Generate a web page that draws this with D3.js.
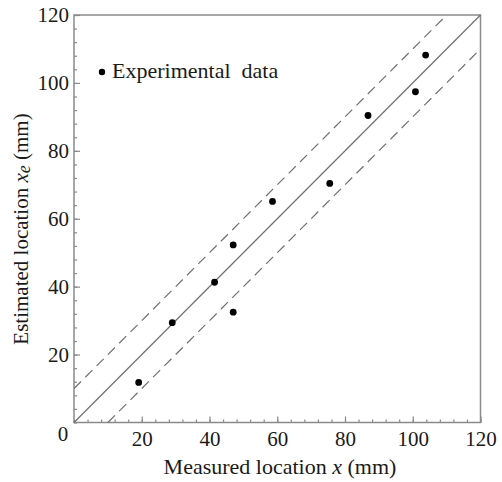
<!DOCTYPE html>
<html>
<head>
<meta charset="utf-8">
<script src="https://cdn.jsdelivr.net/npm/d3@7"></script>
<style>
  body { margin: 0; background: #fff; }
  svg text { font-family: "Liberation Serif", "Times New Roman", serif; fill: #1a1a1a; }
</style>
</head>
<body>
<div id="container"></div>
<script>
// measured vs estimated location (mm)
var measured  = [19.1, 29.0, 41.5, 47.0, 47.0, 58.6, 75.5, 86.8, 100.8, 103.8];
var estimated = [11.8, 29.4, 41.3, 32.5, 52.3, 65.1, 70.4, 90.4, 97.4, 108.2];
var majorTicks = [20, 40, 60, 80, 100, 120];
var minorTicks = d3.range(0, 121, 4);
var bandOffsets = [-10, 0, 10];   // error band around ideal line
var domainMax = 120;

var width = 502, height = 482;
var margin = {left: 74, top: 15, right: 21.5, bottom: 59.5};

var svg = d3.select("#container")
    .append("svg")
    .attr("width", width)
    .attr("height", height);

var x = d3.scaleLinear().domain([0, domainMax]).range([margin.left, width - margin.right]);
var y = d3.scaleLinear().domain([0, domainMax]).range([height - margin.bottom, margin.top]);

var axisColor = "#8a8a8a";

// frame
svg.append("rect")
    .attr("x", x(0))
    .attr("y", y(domainMax))
    .attr("width", x(domainMax) - x(0))
    .attr("height", y(0) - y(domainMax))
    .attr("fill", "none")
    .attr("stroke", axisColor)
    .attr("stroke-width", 1.5);

// minor ticks (inward)
var xMinor = svg.append("g")
    .attr("transform", "translate(0," + y(0) + ")")
    .call(d3.axisBottom(x).tickValues(minorTicks).tickSize(-3).tickFormat(""));
var yMinor = svg.append("g")
    .attr("transform", "translate(" + x(0) + ",0)")
    .call(d3.axisLeft(y).tickValues(minorTicks).tickSize(-3).tickFormat(""));

// major ticks with labels
var xMajor = svg.append("g")
    .attr("transform", "translate(0," + y(0) + ")")
    .call(d3.axisBottom(x).tickValues(majorTicks).tickSize(-6).tickPadding(9));
var yMajor = svg.append("g")
    .attr("transform", "translate(" + x(0) + ",0)")
    .call(d3.axisLeft(y).tickValues(majorTicks).tickSize(-6).tickPadding(5));

[xMinor, yMinor, xMajor, yMajor].forEach(function(g) {
    g.select(".domain").remove();
    g.selectAll("line").attr("stroke", axisColor).attr("stroke-width", 1.2);
    g.selectAll("text")
        .attr("font-family", "Liberation Serif, serif")
        .attr("font-size", 21)
        .attr("fill", "#1a1a1a");
});

// shared origin label
svg.append("text")
    .attr("x", x(0) - 11)
    .attr("y", y(0) + 18)
    .attr("text-anchor", "middle")
    .attr("font-size", 21)
    .text("0");

// reference lines
var line = d3.line().x(d => x(d[0])).y(d => y(d[1]));
bandOffsets.forEach(function(off) {
    var x0 = Math.max(0, -off), x1 = Math.min(domainMax, domainMax - off);
    svg.append("path")
        .attr("d", line([[x0, x0 + off], [x1, x1 + off]]))
        .attr("fill", "none")
        .attr("stroke", "#707070")
        .attr("stroke-width", 1.2)
        .attr("stroke-dasharray", off === 0 ? null : "10,6");
});

// data points
svg.selectAll("circle.pt")
    .data(measured)
    .enter()
    .append("circle")
    .attr("class", "pt")
    .attr("cx", d => x(d))
    .attr("cy", (d, i) => y(estimated[i]))
    .attr("r", 3.4)
    .attr("fill", "#000");

// legend
svg.append("circle")
    .attr("cx", 102)
    .attr("cy", 72)
    .attr("r", 3.2)
    .attr("fill", "#000");
svg.append("text")
    .attr("x", 112)
    .attr("y", 78)
    .attr("font-size", 22)
    .attr("xml:space", "preserve")
    .text("Experimental  data");

// axis titles
var xt = svg.append("text")
    .attr("x", 280)
    .attr("y", 474)
    .attr("text-anchor", "middle")
    .attr("font-size", 22);
xt.append("tspan").text("Measured location ");
xt.append("tspan").attr("font-style", "italic").text("x");
xt.append("tspan").text(" (mm)");

var yt = svg.append("text")
    .attr("transform", "translate(28,229) rotate(-90)")
    .attr("text-anchor", "middle")
    .attr("font-size", 21);
yt.append("tspan").text("Estimated location  ");
yt.append("tspan").attr("font-style", "italic").text("x");
yt.append("tspan").attr("font-style", "italic").attr("font-size", 18).attr("dy", 2).text("e");
yt.append("tspan").attr("dy", -2).text(" (mm)");
</script>
</body>
</html>
